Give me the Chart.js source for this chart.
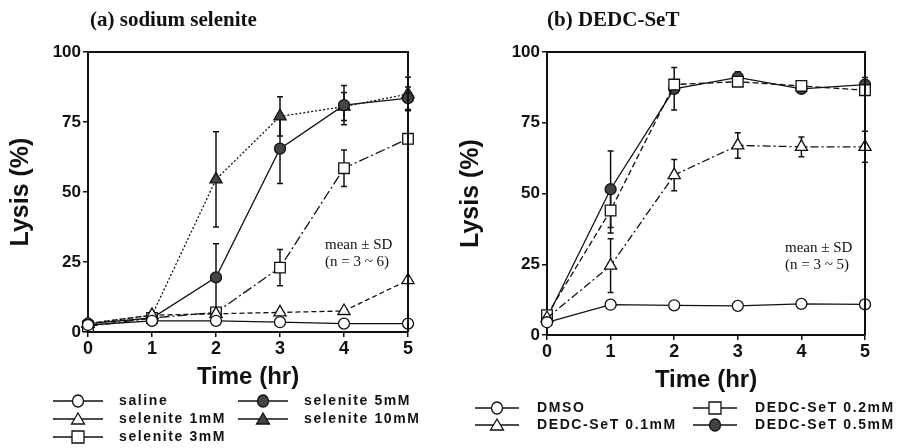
<!DOCTYPE html>
<html>
<head>
<meta charset="utf-8">
<script src="https://cdn.jsdelivr.net/npm/chart.js@4.4.0/dist/chart.umd.min.js"></script>
<style>
  body { margin: 0; background: #fff; }
  .panel { position: absolute; top: 0; height: 448px; }
  #wrapA { left: 0; width: 450px; }
  #wrapB { left: 450px; width: 455px; }
</style>
</head>
<body>
<div class="panel" id="wrapA"><canvas id="chartA" width="450" height="448"></canvas></div>
<div class="panel" id="wrapB"><canvas id="chartB" width="455" height="448"></canvas></div>
<script>
// Tiempos (hr)
const tiempos = [0, 1, 2, 3, 4, 5];
const ticksY = [0, 25, 50, 75, 100];

// Panel (a) sodium selenite
const salineVals = [2.5, 4, 4, 3.5, 3, 3];
const salineErr = [0, 0, 0, 0, 0, 0];
const sel1Vals = [3, 6, 6.5, 7, 7.5, 18.5];
const sel1Err = [0, 0, 0, 0, 0, 0];
const sel3Vals = [2, 5, 7, 23, 58.5, 69];
const sel3Err = [0, 0, 0, 6.5, 6.5, 0];
const sel5Vals = [3, 5, 19.5, 65.5, 81, 83.5];
const sel5Err = [0, 0, 12, 12.5, 7, 4];
const sel10Vals = [3, 6, 54.5, 77, 80.5, 85];
const sel10Err = [0, 0, 17, 7, 5, 6];

// Panel (b) DEDC-SeT
const dmsoVals = [4.5, 10.7, 10.5, 10.3, 11, 10.8];
const dmsoErr = [0, 0, 0, 0, 0, 0];
const d01Vals = [6, 24.5, 56.5, 67, 66.5, 66.5];
const d01Err = [0, 9.5, 5.5, 4.5, 3.5, 5.5];
const d02Vals = [7, 44, 88.5, 89.5, 88, 86.5];
const d02Err = [0, 8, 0, 0, 0, 0];
const d05Vals = [6, 51.5, 87, 91, 87, 88.5];
const d05Err = [0, 13.5, 7.5, 2, 1, 2.5];

const NEGRO = '#111';
const GRIS = '#444';

function serie(label, vals, errs, estilo, dash, relleno) {
    let radio = 5.5;
    if (estilo === 'triangle') radio = 7;
    if (estilo === 'rect') radio = 7.5;
    return {
        label: label,
        data: tiempos.map((t, i) => ({ x: t, y: vals[i] })),
        errores: errs,
        borderColor: NEGRO,
        borderWidth: 1.3,
        borderDash: dash,
        pointStyle: estilo,
        pointRadius: radio,
        pointBackgroundColor: relleno ? GRIS : '#fff',
        pointBorderColor: NEGRO,
        pointBorderWidth: 1.3,
        tension: 0,
        clip: false
    };
}

// Dibuja las barras de error con las escalas del gráfico
const pluginErrores = {
    id: 'errores',
    beforeDatasetsDraw(chart) {
        const ctx = chart.ctx;
        const sx = chart.scales.x, sy = chart.scales.y;
        ctx.save();
        ctx.strokeStyle = NEGRO;
        ctx.lineWidth = 1.5;
        chart.data.datasets.forEach(ds => {
            ds.data.forEach((p, i) => {
                const e = ds.errores[i];
                if (!e) return;
                const x = sx.getPixelForValue(p.x);
                const y1 = sy.getPixelForValue(p.y - e);
                const y2 = sy.getPixelForValue(p.y + e);
                ctx.beginPath();
                ctx.moveTo(x, y1); ctx.lineTo(x, y2);
                ctx.moveTo(x - 3, y1); ctx.lineTo(x + 3, y1);
                ctx.moveTo(x - 3, y2); ctx.lineTo(x + 3, y2);
                ctx.stroke();
            });
        });
        ctx.restore();
    }
};

function marcador(ctx, estilo, relleno, x, y) {
    ctx.save();
    ctx.fillStyle = relleno ? GRIS : '#fff';
    ctx.strokeStyle = NEGRO;
    ctx.lineWidth = 1.3;
    ctx.setLineDash([]);
    ctx.beginPath();
    if (estilo === 'circle') {
        ctx.ellipse(x, y, 5.5, 6, 0, 0, Math.PI * 2);
    } else if (estilo === 'triangle') {
        ctx.moveTo(x, y - 6); ctx.lineTo(x + 6.5, y + 5); ctx.lineTo(x - 6.5, y + 5); ctx.closePath();
    } else {
        ctx.rect(x - 6, y - 6, 12, 12);
    }
    ctx.fill();
    ctx.stroke();
    ctx.restore();
}

// Marco, títulos, nota y leyenda
function pluginDecoracion(cfg) {
    return {
        id: 'decoracion',
        afterDraw(chart) {
            const ctx = chart.ctx;
            const a = chart.chartArea;
            ctx.save();
            ctx.strokeStyle = NEGRO;
            ctx.lineWidth = 2;
            ctx.beginPath();
            ctx.moveTo(a.left, a.top); ctx.lineTo(a.right, a.top); ctx.lineTo(a.right, a.bottom);
            ctx.stroke();

            ctx.fillStyle = NEGRO;
            ctx.font = 'bold 21px "Liberation Serif", "DejaVu Serif", serif';
            ctx.textBaseline = 'middle';
            ctx.textAlign = 'left';
            ctx.fillText(cfg.titulo, cfg.tituloX, 21);

            ctx.font = '15px "Liberation Serif", serif';
            ctx.fillText('mean ± SD', cfg.notaX, cfg.notaY);
            ctx.fillText(cfg.nota, cfg.notaX, cfg.notaY + 17);

            ctx.font = 'bold 14px "Liberation Sans", Arial, sans-serif';
            ctx.letterSpacing = '1.6px';
            cfg.leyenda.forEach(item => {
                ctx.save();
                ctx.strokeStyle = NEGRO;
                ctx.lineWidth = 1.3;
                ctx.beginPath();
                ctx.moveTo(item.x, item.y); ctx.lineTo(item.x + cfg.largo, item.y);
                ctx.stroke();
                ctx.restore();
                marcador(ctx, item.estilo, item.relleno, item.x + cfg.largo / 2, item.y);
                ctx.fillText(item.texto, item.x + cfg.largo + cfg.sep, item.y);
            });
            ctx.restore();
        }
    };
}

function crearGrafico(id, datasets, anchoY, abajo, derecha, cfg) {
    const fuenteEje = '"Liberation Sans", Arial, sans-serif';
    return new Chart(document.getElementById(id), {
        type: 'line',
        data: { datasets: datasets },
        options: {
            responsive: false,
            animation: false,
            layout: { padding: { top: 52, right: derecha, bottom: abajo, left: 0 } },
            plugins: { legend: { display: false }, tooltip: { enabled: false } },
            scales: {
                x: {
                    type: 'linear', min: 0, max: 5,
                    afterFit: s => { s.height = 60; },
                    ticks: { stepSize: 1, color: NEGRO, padding: 1, font: { family: fuenteEje, size: 18, weight: 'bold' } },
                    grid: { display: true, drawOnChartArea: false, tickLength: 5, color: NEGRO, lineWidth: 1.5 },
                    border: { display: true, color: NEGRO, width: 2 },
                    title: { display: true, text: 'Time (hr)', color: NEGRO, padding: 0, font: { family: fuenteEje, size: 24, weight: 'bold' } }
                },
                y: {
                    min: 0, max: 100,
                    afterFit: s => { s.width = anchoY; },
                    afterBuildTicks: s => { s.ticks = ticksY.map(v => ({ value: v })); },
                    ticks: { color: NEGRO, padding: 2, font: { family: fuenteEje, size: 17, weight: 'bold' } },
                    grid: { display: true, drawOnChartArea: false, tickLength: 5, color: NEGRO, lineWidth: 1.5 },
                    border: { display: true, color: NEGRO, width: 2 },
                    title: { display: true, text: 'Lysis (%)', color: NEGRO, padding: { top: 6, bottom: 0 }, font: { family: fuenteEje, size: 25, weight: 'bold' } }
                }
            }
        },
        plugins: [pluginErrores, pluginDecoracion(cfg)]
    });
}

crearGrafico('chartA', [
    serie('saline', salineVals, salineErr, 'circle', [], false),
    serie('selenite 1mM', sel1Vals, sel1Err, 'triangle', [5, 3], false),
    serie('selenite 3mM', sel3Vals, sel3Err, 'rect', [10, 3, 2, 3], false),
    serie('selenite 5mM', sel5Vals, sel5Err, 'circle', [], true),
    serie('selenite 10mM', sel10Vals, sel10Err, 'triangle', [2, 2], true)
], 88, 56, 42, {
    titulo: '(a) sodium selenite', tituloX: 90,
    nota: '(n = 3 ~ 6)', notaX: 325, notaY: 245,
    largo: 50, sep: 16,
    leyenda: [
        { texto: 'saline', estilo: 'circle', relleno: false, x: 53, y: 401 },
        { texto: 'selenite 1mM', estilo: 'triangle', relleno: false, x: 53, y: 419 },
        { texto: 'selenite 3mM', estilo: 'rect', relleno: false, x: 53, y: 437 },
        { texto: 'selenite 5mM', estilo: 'circle', relleno: true, x: 238, y: 401 },
        { texto: 'selenite 10mM', estilo: 'triangle', relleno: true, x: 238, y: 419 }
    ]
});

crearGrafico('chartB', [
    serie('DMSO', dmsoVals, dmsoErr, 'circle', [], false),
    serie('DEDC-SeT 0.1mM', d01Vals, d01Err, 'triangle', [8, 3, 2, 3], false),
    serie('DEDC-SeT 0.2mM', d02Vals, d02Err, 'rect', [6, 3], false),
    serie('DEDC-SeT 0.5mM', d05Vals, d05Err, 'circle', [], true)
], 97, 53, 40, {
    titulo: '(b) DEDC-SeT', tituloX: 97,
    nota: '(n = 3 ~ 5)', notaX: 335, notaY: 248,
    largo: 44, sep: 18,
    leyenda: [
        { texto: 'DMSO', estilo: 'circle', relleno: false, x: 25, y: 408 },
        { texto: 'DEDC-SeT 0.1mM', estilo: 'triangle', relleno: false, x: 25, y: 425 },
        { texto: 'DEDC-SeT 0.2mM', estilo: 'rect', relleno: false, x: 243, y: 408 },
        { texto: 'DEDC-SeT 0.5mM', estilo: 'circle', relleno: true, x: 243, y: 425 }
    ]
});
</script>
</body>
</html>
